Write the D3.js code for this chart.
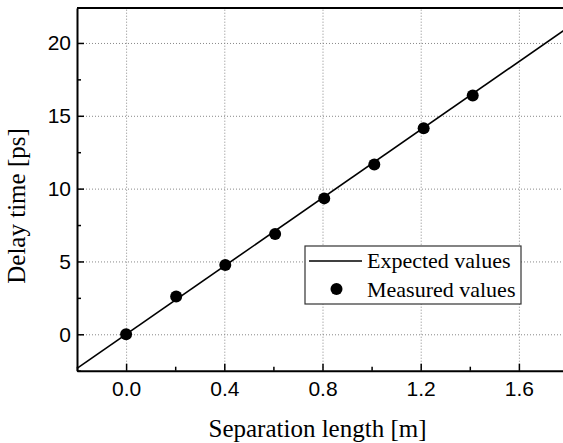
<!DOCTYPE html>
<html>
<head>
<meta charset="utf-8">
<script src="https://cdn.jsdelivr.net/npm/d3@7"></script>
<style>
  body { margin: 0; background: #fff; }
  svg { display: block; }
</style>
</head>
<body>
<div id="chart"></div>
<script>
// measured delays vs separation
const lengthM = [0, 0.204, 0.404, 0.607, 0.807, 1.011, 1.212, 1.412];
const measuredPs = [0, 2.59, 4.76, 6.88, 9.33, 11.66, 14.14, 16.4];

// expected straight line (end points)
const expectedM = [-0.2, 1.8];
const expectedPs = [-2.34, 21.06];

const xTicks = [0, 0.4, 0.8, 1.2, 1.6];
const xMinor = [-0.2, 0.2, 0.6, 1.0, 1.4, 1.8];
const yTicks = [0, 5, 10, 15, 20];
const yMinor = [-2.5, 2.5, 7.5, 12.5, 17.5];

const legendLabels = ["Expected values", "Measured values"];

const width = 563, height = 443;
const plotLeft = 77, plotRight = 568, plotTop = 8, plotBottom = 370.7;

const x = d3.scaleLinear().domain([-0.2, 1.8]).range([plotLeft, plotRight]);
const y = d3.scaleLinear().domain([-2.5, 22.4]).range([plotBottom, plotTop]);

const svg = d3.select("#chart").append("svg")
    .attr("width", width)
    .attr("height", height);

// grid
svg.append("g")
    .attr("transform", `translate(0,${plotBottom})`)
    .call(d3.axisBottom(x).tickValues(xTicks).tickSize(-(plotBottom - plotTop)).tickFormat(""))
    .call(g => g.select(".domain").remove())
    .selectAll("line")
    .attr("stroke", "#888")
    .attr("stroke-dasharray", "1,2");

svg.append("g")
    .attr("transform", `translate(${plotLeft},0)`)
    .call(d3.axisLeft(y).tickValues(yTicks).tickSize(-(plotRight - plotLeft)).tickFormat(""))
    .call(g => g.select(".domain").remove())
    .selectAll("line")
    .attr("stroke", "#888")
    .attr("stroke-dasharray", "1,2");

// expected line
const line = d3.line()
    .x(d => x(d[0]))
    .y(d => y(d[1]));

svg.append("path")
    .datum(expectedM.map((m, i) => [m, expectedPs[i]]))
    .attr("d", line)
    .attr("fill", "none")
    .attr("stroke", "#000")
    .attr("stroke-width", 1.6);

// measured points
svg.append("g")
    .selectAll("circle")
    .data(lengthM.map((m, i) => [m, measuredPs[i]]))
    .join("circle")
    .attr("cx", d => x(d[0]))
    .attr("cy", d => y(d[1]))
    .attr("r", 6)
    .attr("fill", "#000");

// axes, ticks pointing inwards
svg.append("g")
    .attr("class", "axis")
    .attr("transform", `translate(0,${plotBottom})`)
    .call(d3.axisBottom(x).tickValues(xTicks).tickSize(-7).tickSizeOuter(0)
        .tickPadding(10).tickFormat(d3.format(".1f")));

svg.append("g")
    .attr("class", "axis")
    .attr("transform", `translate(0,${plotBottom})`)
    .call(d3.axisBottom(x).tickValues(xMinor).tickSize(-4).tickFormat(""))
    .call(g => g.select(".domain").remove());

svg.append("g")
    .attr("class", "axis")
    .attr("transform", `translate(${plotLeft},0)`)
    .call(d3.axisLeft(y).tickValues(yTicks).tickSize(-7).tickSizeOuter(0)
        .tickPadding(6).tickFormat(d3.format("d")));

svg.append("g")
    .attr("class", "axis")
    .attr("transform", `translate(${plotLeft},0)`)
    .call(d3.axisLeft(y).tickValues(yMinor).tickSize(-4).tickFormat(""))
    .call(g => g.select(".domain").remove());

svg.selectAll(".axis .tick line").attr("stroke", "#000").attr("stroke-width", 1.5);
svg.selectAll(".axis .domain").attr("stroke", "#000").attr("stroke-width", 2);
svg.selectAll(".axis .tick text")
    .attr("fill", "#000")
    .style("font-family", "'Liberation Sans', Arial, sans-serif")
    .style("font-size", "21px");

// top / right frame
svg.append("path")
    .attr("d", `M${plotLeft},${plotTop}H${plotRight}V${plotBottom}`)
    .attr("fill", "none")
    .attr("stroke", "#000")
    .attr("stroke-width", 2);

// axis titles
svg.append("text")
    .attr("x", (plotLeft + plotRight) / 2 - 5)
    .attr("y", 437)
    .attr("text-anchor", "middle")
    .style("font-family", "'Liberation Serif', 'Times New Roman', serif")
    .style("font-size", "25px")
    .text("Separation length [m]");

svg.append("text")
    .attr("transform", `translate(25,206) rotate(-90)`)
    .attr("text-anchor", "middle")
    .style("font-family", "'Liberation Serif', 'Times New Roman', serif")
    .style("font-size", "25px")
    .text("Delay time [ps]");

// legend
const legend = svg.append("g");
legend.append("rect")
    .attr("x", 305)
    .attr("y", 246)
    .attr("width", 216)
    .attr("height", 58)
    .attr("fill", "#fff")
    .attr("stroke", "#333")
    .attr("stroke-width", 1.2);

legend.append("line")
    .attr("x1", 309).attr("x2", 362)
    .attr("y1", 261).attr("y2", 261)
    .attr("stroke", "#000")
    .attr("stroke-width", 1.6);

legend.append("circle")
    .attr("cx", 336.5)
    .attr("cy", 289)
    .attr("r", 6)
    .attr("fill", "#000");

legend.selectAll("text")
    .data(legendLabels)
    .join("text")
    .attr("x", 367)
    .attr("y", (d, i) => 268 + i * 29)
    .style("font-family", "'Liberation Serif', 'Times New Roman', serif")
    .style("font-size", "22px")
    .text(d => d);
</script>
</body>
</html>
